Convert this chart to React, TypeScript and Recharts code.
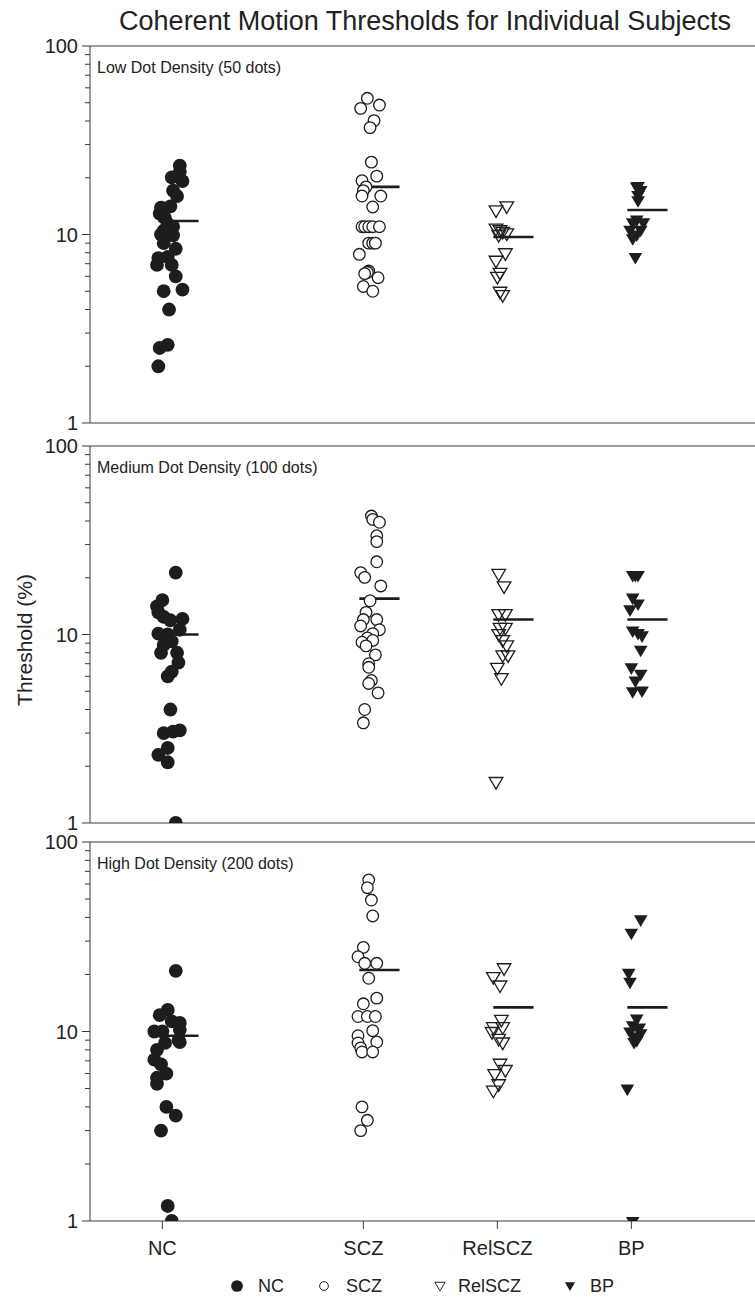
import React from 'react';
import { ScatterChart, Scatter, XAxis, YAxis, ReferenceLine } from 'recharts';

// ---------- data ----------
const groups = ['NC', 'SCZ', 'RelSCZ', 'BP'];
const groupX = [1, 2.5, 3.5, 4.5];
const yTickValues = [1, 2, 3, 4, 5, 6, 7, 8, 9, 10, 20, 30, 40, 50, 60, 70, 80, 90, 100];
const yMajorTicks = [1, 10, 100];
const panelTitles = ['Low Dot Density (50 dots)', 'Medium Dot Density (100 dots)', 'High Dot Density (200 dots)'];

// Low dot density (50 dots)
const lowNC = [23.2, 21.5, 20.1, 19.2, 17.1, 16.0, 14.1, 13.9, 12.9, 12.2, 11.4, 11.0, 10.5, 10.0, 9.9, 9.0, 8.4, 7.6, 7.5, 6.9, 6.9, 6.0, 5.1, 5.0, 4.0, 2.6, 2.5, 2.0];
const lowNCJitter = [0.13, 0.13, 0.07, 0.15, 0.08, 0.11, 0.06, -0.01, -0.02, 0.02, 0.04, 0.08, 0.01, -0.01, 0.08, 0.01, 0.1, 0.04, -0.03, -0.04, 0.07, 0.1, 0.15, 0.01, 0.05, 0.04, -0.02, -0.03];
const lowSCZ = [52.8, 48.6, 46.7, 40.2, 36.9, 24.2, 20.4, 19.3, 17.9, 17.1, 16.0, 16.0, 14.0, 11.0, 11.0, 11.0, 11.0, 11.0, 9.0, 9.0, 9.0, 7.85, 6.4, 6.3, 6.2, 5.9, 5.3, 5.0];
const lowSCZJitter = [0.03, 0.12, -0.02, 0.08, 0.05, 0.06, 0.1, -0.01, 0.02, 0, -0.01, 0.13, 0.07, -0.01, 0.01, 0.04, 0.07, 0.12, 0.04, 0.07, 0.09, -0.03, 0.04, 0.03, 0.01, 0.11, 0, 0.07];
const lowRel = [14.2, 13.5, 10.8, 10.6, 10.4, 10.2, 10.0, 8.0, 7.3, 6.3, 6.0, 5.0, 4.8];
const lowRelJitter = [0.07, -0.01, -0.01, 0.02, 0.04, 0.07, 0.01, 0.06, -0.01, 0.02, 0, 0.02, 0.04];
const lowBP = [18.1, 18.0, 17.2, 16.2, 15.2, 12.0, 11.6, 11.6, 10.6, 10.6, 10.0, 9.55, 7.6];
const lowBPJitter = [0.05, 0.04, 0.07, 0.05, 0.05, 0.04, 0.01, 0.09, -0.01, 0.07, 0.04, 0.01, 0.03];
const lowMeans = [11.8, 17.9, 9.7, 13.5];

// Medium dot density (100 dots)
const medNC = [21.3, 15.2, 14.1, 13.1, 12.4, 12.1, 11.9, 10.6, 10.1, 10.0, 9.2, 8.8, 8.0, 8.0, 7.1, 6.35, 6.0, 4.0, 3.1, 3.05, 3.0, 2.5, 2.3, 2.1, 1.0];
const medNCJitter = [0.1, 0, -0.04, -0.03, 0.01, 0.15, 0.06, 0.13, -0.03, 0.04, 0.07, 0.01, -0.01, 0.11, 0.12, 0.07, 0.04, 0.06, 0.13, 0.08, 0.01, 0.04, -0.03, 0.04, 0.1];
const medSCZ = [42.5, 40.8, 39.4, 33.4, 31.1, 24.3, 21.3, 20.1, 18.1, 15.1, 13.1, 12.0, 12.0, 11.1, 10.6, 10.1, 9.6, 9.3, 9.1, 8.7, 7.8, 7.0, 6.7, 5.7, 5.5, 4.9, 4.0, 3.4];
const medSCZJitter = [0.06, 0.07, 0.12, 0.1, 0.1, 0.1, -0.02, 0.01, 0.13, 0.05, 0.02, 0.1, 0, -0.02, 0.12, 0.07, 0.03, 0.07, -0.01, 0.02, 0.09, 0.04, 0.04, 0.06, 0.04, 0.11, 0.01, 0];
const medRel = [21.1, 18.1, 12.9, 12.9, 10.9, 10.9, 10.1, 9.4, 8.8, 7.8, 7.8, 6.7, 5.9, 1.66];
const medRelJitter = [0.01, 0.05, 0.01, 0.06, 0.02, 0.06, 0.01, 0.04, 0.07, 0.04, 0.08, 0, 0.03, -0.01];
const medBP = [20.7, 20.7, 20.7, 15.7, 14.6, 13.6, 10.5, 10.2, 9.9, 8.3, 6.7, 6.2, 5.7, 5.0, 5.05];
const medBPJitter = [0.01, 0.03, 0.05, 0.01, 0.05, -0.01, 0.01, 0.05, 0.08, 0.07, 0, 0.07, 0.03, 0.01, 0.08];
const medMeans = [10.0, 15.5, 12.0, 12.0];

// High dot density (200 dots)
const highNC = [20.9, 13.0, 12.2, 11.3, 11.1, 10.2, 10.0, 10.0, 9.0, 8.8, 8.7, 8.0, 7.1, 6.7, 6.0, 5.7, 5.3, 4.0, 3.6, 3.0, 1.2, 1.0];
const highNCJitter = [0.1, 0.04, -0.02, 0.07, 0.13, 0.13, -0.06, 0, 0.12, 0.13, 0.02, -0.04, -0.06, -0.01, 0.03, -0.04, -0.04, 0.03, 0.1, -0.01, 0.04, 0.07];
const highSCZ = [63.0, 57.4, 49.4, 40.7, 27.8, 24.8, 22.9, 22.9, 19.1, 15.0, 14.0, 12.0, 12.0, 12.0, 10.1, 9.5, 8.8, 8.7, 8.2, 7.8, 7.8, 4.0, 3.4, 3.0];
const highSCZJitter = [0.04, 0.03, 0.06, 0.07, 0, -0.04, 0.01, 0.1, 0.04, 0.1, 0, -0.04, 0.03, 0.09, 0.07, -0.04, 0.1, -0.04, -0.02, -0.01, 0.07, -0.01, 0.03, -0.02];
const highRel = [21.7, 19.5, 17.6, 11.6, 10.6, 10.6, 10.0, 9.2, 8.8, 6.8, 6.3, 6.0, 5.3, 4.9];
const highRelJitter = [0.05, -0.03, 0.02, 0.03, 0.04, -0.03, -0.04, 0.01, 0.04, 0.02, 0.06, -0.02, 0.01, -0.03];
const highBP = [39.1, 33.2, 20.4, 18.3, 11.7, 10.8, 10.5, 10.0, 9.8, 9.4, 9.0, 8.8, 5.0, 1.0];
const highBPJitter = [0.07, 0, -0.02, -0.01, 0.04, 0.01, 0.06, -0.01, 0.07, 0.03, 0.04, 0.02, -0.03, 0.01];
const highMeans = [9.5, 21.1, 13.4, 13.4];

// ---------- styling / layout (page pixel coordinates) ----------
const INK = '#1d1d1d';
const AXIS = '#3a3a3a';
const FONT = '"Liberation Sans", Arial, Helvetica, sans-serif';
// plot runs past the right page edge (as in the reference, where the frame is cut off)
const X_DOMAIN: [number, number] = [0.46, 5.572];
const CHART_W = 775;
const MEAN_FROM = -0.03;
const MEAN_TO = 0.27;

const panels = [
  { title: panelTitles[0], values: [lowNC, lowSCZ, lowRel, lowBP], jitters: [lowNCJitter, lowSCZJitter, lowRelJitter, lowBPJitter], means: lowMeans, top: 36, plotH: 377 },
  { title: panelTitles[1], values: [medNC, medSCZ, medRel, medBP], jitters: [medNCJitter, medSCZJitter, medRelJitter, medBPJitter], means: medMeans, top: 436, plotH: 377 },
  { title: panelTitles[2], values: [highNC, highSCZ, highRel, highBP], jitters: [highNCJitter, highSCZJitter, highRelJitter, highBPJitter], means: highMeans, top: 832, plotH: 379 },
];

const triPath = (cx: number, cy: number) =>
  `M${cx - 6.8},${cy - 4}L${cx + 6.8},${cy - 4}L${cx},${cy + 7.6}Z`;

const FilledCircle = (p: any) => <circle cx={p.cx} cy={p.cy} r={6.9} fill={INK} />;
const OpenCircle = (p: any) => <circle cx={p.cx} cy={p.cy} r={5.8} fill="#fff" stroke={INK} strokeWidth={1.3} />;
const OpenTri = (p: any) => <path d={triPath(p.cx, p.cy)} fill="none" stroke={INK} strokeWidth={1.3} />;
const FilledTri = (p: any) => <path d={triPath(p.cx, p.cy)} fill={INK} />;
const shapes = [FilledCircle, OpenCircle, OpenTri, FilledTri];

const YTick = (props: any) => {
  const { x, y, payload } = props;
  const major = yMajorTicks.includes(payload.value);
  return (
    <g>
      <line x1={x - (major ? 8 : 5)} x2={x} y1={y} y2={y} stroke={AXIS} strokeWidth={1} />
      {major && (
        <text x={x - 12} y={y} dy="0.36em" textAnchor="end" fontSize={20} fill="#222" fontFamily={FONT}>
          {payload.value}
        </text>
      )}
    </g>
  );
};

const Panel = ({ panel, bottom }: { panel: any; bottom: boolean }) => {
  const xAxisH = bottom ? 50 : 0;
  const height = 10 + panel.plotH + 10 * (bottom ? 0 : 1) + xAxisH;
  return (
    <div style={{ position: 'absolute', left: 0, top: panel.top }}>
      <ScatterChart width={CHART_W} height={height} margin={{ top: 10, right: 0, bottom: bottom ? 0 : 10, left: 0 }}>
        <XAxis
          type="number"
          dataKey="x"
          domain={X_DOMAIN}
          allowDataOverflow
          hide={!bottom}
          height={xAxisH}
          ticks={groupX}
          interval={0}
          tickFormatter={(v: number) => groups[groupX.indexOf(v)] ?? ''}
          tick={{ fontSize: 20, fill: '#222', fontFamily: FONT }}
          tickSize={8}
          tickMargin={12}
          axisLine={{ stroke: AXIS }}
          tickLine={{ stroke: AXIS }}
        />
        <YAxis
          type="number"
          dataKey="y"
          scale="log"
          domain={[1, 100]}
          allowDataOverflow
          ticks={yTickValues}
          interval={0}
          width={90}
          tickSize={0}
          tickMargin={0}
          tickLine={false}
          axisLine={{ stroke: AXIS }}
          tick={<YTick />}
        />
        <ReferenceLine y={100} stroke={AXIS} strokeWidth={1} />
        {!bottom && <ReferenceLine y={1} stroke={AXIS} strokeWidth={1} />}
        {groups.map((g, gi) => (
          <Scatter
            key={g}
            name={g}
            isAnimationActive={false}
            data={panel.values[gi].map((v: number, i: number) => ({ x: groupX[gi] + panel.jitters[gi][i], y: v }))}
            shape={shapes[gi]}
          />
        ))}
        {groups.map((g, gi) => (
          <ReferenceLine
            key={'m' + g}
            segment={[
              { x: groupX[gi] + MEAN_FROM, y: panel.means[gi] },
              { x: groupX[gi] + MEAN_TO, y: panel.means[gi] },
            ]}
            stroke={INK}
            strokeWidth={2.6}
          />
        ))}
      </ScatterChart>
    </div>
  );
};

const legendX = [237, 324, 440, 570];
const legendTextGap = [21, 22, 18, 20];

export default function App() {
  return (
    <div style={{ position: 'fixed', left: 0, top: 0, width: 755, height: 1297, overflow: 'hidden', background: '#fff', fontFamily: FONT, color: '#222' }}>
      <div style={{ position: 'absolute', left: 115, top: 8, width: 620, textAlign: 'center', fontSize: 27, lineHeight: '27px', whiteSpace: 'nowrap' }}>
        Coherent Motion Thresholds for Individual Subjects
      </div>
      <div
        style={{
          position: 'absolute', left: 25, top: 640, transform: 'translate(-50%, -50%) rotate(-90deg)',
          fontSize: 21, whiteSpace: 'nowrap',
        }}
      >
        Threshold (%)
      </div>
      {panels.map((p, i) => (
        <Panel key={i} panel={p} bottom={i === 2} />
      ))}
      {panels.map((p, i) => (
        <div key={'t' + i} style={{ position: 'absolute', left: 97, top: p.top + 10 + 22, transform: 'translateY(-50%)', fontSize: 16, whiteSpace: 'nowrap' }}>
          {p.title}
        </div>
      ))}
      <svg style={{ position: 'absolute', left: 0, top: 1272 }} width={755} height={25}>
        {groups.map((g, gi) => {
          const S = shapes[gi];
          return (
            <g key={g}>
              <g transform={`translate(${legendX[gi]},14) scale(${gi === 0 ? 0.85 : 0.75})`}>
                <S cx={0} cy={gi >= 2 ? -1 : 0} />
              </g>
              <text x={legendX[gi] + legendTextGap[gi]} y={14} dy="0.36em" fontSize={18} fill="#222" fontFamily={FONT}>
                {g}
              </text>
            </g>
          );
        })}
      </svg>
    </div>
  );
}
